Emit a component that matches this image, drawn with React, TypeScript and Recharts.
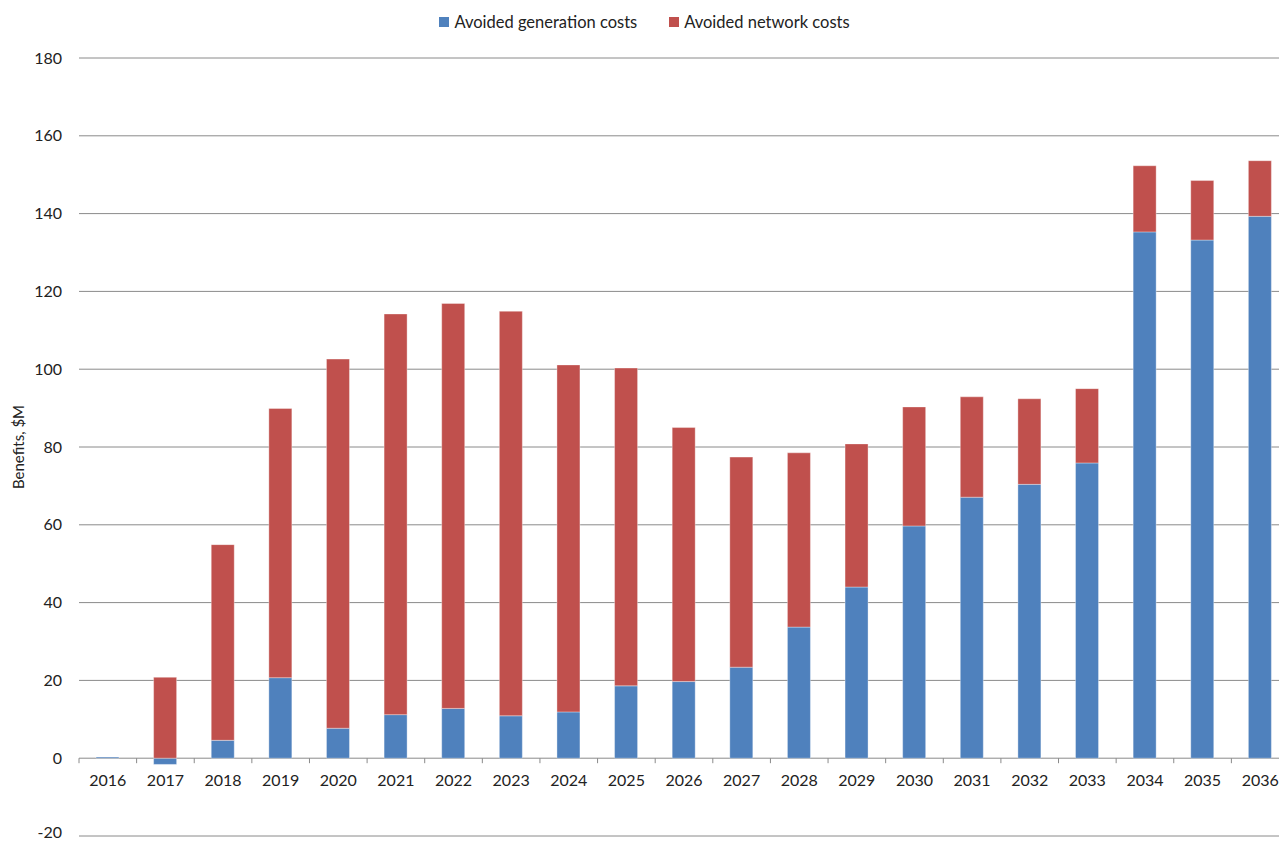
import * as React from 'react';
import { BarChart, Bar, XAxis, YAxis, CartesianGrid, Legend } from 'recharts';

// years along the category axis
const years = [
  '2016', '2017', '2018', '2019', '2020', '2021', '2022', '2023', '2024', '2025', '2026',
  '2027', '2028', '2029', '2030', '2031', '2032', '2033', '2034', '2035', '2036',
];

// $M
const generation = [
  0.3, -1.6, 4.6, 20.7, 7.7, 11.2, 12.8, 10.9, 11.9, 18.6, 19.7,
  23.4, 33.7, 44.0, 59.7, 67.1, 70.4, 75.9, 135.3, 133.2, 139.3,
];
const network = [
  0, 20.8, 50.3, 69.2, 94.9, 103.0, 104.1, 104.0, 89.2, 81.7, 65.3,
  54.0, 44.8, 36.8, 30.6, 25.8, 22.0, 19.1, 17.0, 15.3, 14.3,
];

const yTicks = [-20, 0, 20, 40, 60, 80, 100, 120, 140, 160, 180];

const BLUE = '#4F81BD';
const RED = '#C0504D';
const FONT = 'Lato, "Open Sans", sans-serif';

const CHART_W = 1290;
const CHART_H = 841;
const X_AXIS_H = 1;
const MARGIN = { top: 8, right: 1, bottom: 4, left: 0 };
const LEGEND_H = 50;
const Y_AXIS_W = 79;
const Y_MIN = -20;
const Y_MAX = 180;

const plotTop = MARGIN.top + LEGEND_H;
const plotH = CHART_H - plotTop - MARGIN.bottom - X_AXIS_H;
const zeroY = plotTop + (Y_MAX / (Y_MAX - Y_MIN)) * plotH;
const plotW = CHART_W - MARGIN.left - MARGIN.right - Y_AXIS_W;
const band = plotW / years.length;

const data = years.map((year, i) => ({
  year,
  gen: generation[i],
  net: network[i],
}));

// category labels sit under the zero line, like the original
function YearTick(props: any) {
  const { x, payload } = props;
  const left = x - band / 2;
  return (
    <g>
      <line x1={left} x2={left} y1={zeroY} y2={zeroY + 5} stroke="#8a8a8a" />
      <text x={x} y={zeroY + 28} textAnchor="middle" fontSize={16} fontFamily={FONT} fill="#222">
        {payload.value}
      </text>
    </g>
  );
}

// keep the bottom (-20) label inside the frame
function ValueTick(props: any) {
  const { x, y, payload } = props;
  const ty = Math.min(y, CHART_H - 9);
  return (
    <text x={x} y={ty} dy="0.355em" textAnchor="end" fontSize={16} fontFamily={FONT} fill="#222">
      {payload.value}
    </text>
  );
}

function LegendBox() {
  const items = [
    { label: 'Avoided generation costs', color: BLUE },
    { label: 'Avoided network costs', color: RED },
  ];
  return (
    <div style={{ height: LEGEND_H, display: 'flex', justifyContent: 'center', fontFamily: FONT, fontSize: 16.5, color: '#222' }}>
      {items.map((it) => (
        <div key={it.label} style={{ display: 'flex', alignItems: 'center', height: 28, margin: '0 16px' }}>
          <span style={{ width: 10, height: 10, background: it.color, marginRight: 5 }} />
          {it.label}
        </div>
      ))}
    </div>
  );
}

function AxisTitle(props: any) {
  const vb = props.viewBox;
  const cx = 18;
  const cy = vb.y + vb.height / 2;
  return (
    <text x={cx} y={cy} transform={`rotate(-90, ${cx}, ${cy})`} textAnchor="middle" dominantBaseline="central"
      fontSize={15} fontFamily={FONT} fill="#222">
      Benefits, $M
    </text>
  );
}

export default function App() {
  return (
    <div style={{ position: 'absolute', left: 0, top: 0, width: 1279, height: 841, overflow: 'hidden', background: '#fff' }}>
      <BarChart width={CHART_W} height={CHART_H} data={data} margin={MARGIN} stackOffset="sign">
        <CartesianGrid vertical={false} stroke="#8a8a8a" />
        <XAxis dataKey="year" axisLine={false} tickLine={false} height={X_AXIS_H} interval={0} tick={<YearTick />} />
        <YAxis
          width={Y_AXIS_W}
          domain={[Y_MIN, Y_MAX]}
          ticks={yTicks}
          interval={0}
          axisLine={false}
          tickLine={false}
          tickSize={0}
          tickMargin={17}
          tick={<ValueTick />}
          label={{ content: <AxisTitle /> }}
        />
        <Legend verticalAlign="top" align="center" content={<LegendBox />} />
        <Bar dataKey="gen" name="Avoided generation costs" stackId="a" fill={BLUE} barSize={23}
          stroke="#ffffff" strokeOpacity={0.35} isAnimationActive={false} />
        <Bar dataKey="net" name="Avoided network costs" stackId="a" fill={RED} barSize={23}
          stroke="#ffffff" strokeOpacity={0.35} isAnimationActive={false} />
      </BarChart>
    </div>
  );
}
